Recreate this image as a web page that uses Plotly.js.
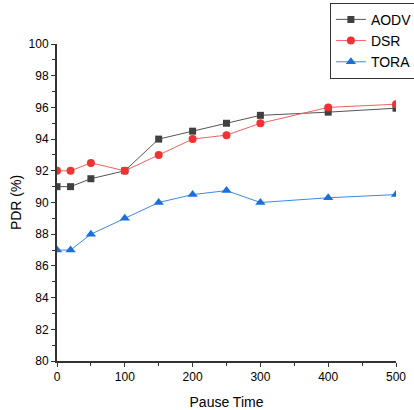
<!DOCTYPE html>
<html><head><meta charset="utf-8">
<script src="https://cdn.plot.ly/plotly-3.0.1.min.js"></script>
<style>body{margin:0;background:#fff}#c{width:414px;height:410px}</style>
</head><body><div id="c"></div>
<script>
const pauseTime = [0, 20, 50, 100, 150, 200, 250, 300, 400, 500];
const aodv = [91, 91, 91.5, 92, 94, 94.5, 95, 95.5, 95.7, 95.95];
const dsr = [92, 92, 92.5, 92, 93, 94, 94.25, 95, 96, 96.2];
const tora = [87, 87, 88, 89, 90, 90.5, 90.75, 90, 90.3, 90.5];

const font = {family: 'Liberation Sans, Arial, sans-serif', color: '#000'};
const traces = [
  {x: pauseTime, y: aodv, name: 'AODV', mode: 'lines+markers',
   line: {color: '#555555', width: 1}, marker: {symbol: 'square', size: 7, color: '#404040'}},
  {x: pauseTime, y: dsr, name: 'DSR', mode: 'lines+markers',
   line: {color: '#f25f5f', width: 1}, marker: {symbol: 'circle', size: 8, color: '#ee3333'}},
  {x: pauseTime, y: tora, name: 'TORA', mode: 'lines+markers',
   line: {color: '#3c8ae6', width: 1}, marker: {symbol: 'triangle-up', size: 9, color: '#1a6fdf'}}
];
const layout = {
  width: 414, height: 410,
  margin: {l: 57, r: 18, t: 44, b: 49, autoexpand: false},
  paper_bgcolor: '#fff', plot_bgcolor: '#fff',
  font: Object.assign({size: 12}, font),
  showlegend: true,
  legend: {x: 0.805, y: 1.13, xanchor: 'left', yanchor: 'top',
    bordercolor: '#333', borderwidth: 1, bgcolor: '#fff',
    font: Object.assign({size: 14}, font), tracegroupgap: 0, itemwidth: 30},
  xaxis: {range: [0, 500], tickvals: [0,100,200,300,400,500], showgrid: false, zeroline: false,
    showline: true, linecolor: '#333', linewidth: 2, ticks: 'outside', ticklen: 4, tickwidth: 1, tickcolor: '#333',
    minor: {dtick: 50, ticks: 'outside', ticklen: 3, tickcolor: '#333'},
    title: {text: 'Pause Time', font: Object.assign({size: 14}, font), standoff: 14},
    tickfont: Object.assign({size: 12}, font)},
  yaxis: {range: [80, 100], dtick: 2, showgrid: false, zeroline: false,
    showline: true, linecolor: '#333', linewidth: 2, ticks: 'outside', ticklen: 4, tickwidth: 1, tickcolor: '#333',
    minor: {dtick: 1, ticks: 'outside', ticklen: 3, tickcolor: '#333'},
    title: {text: 'PDR (%)', font: Object.assign({size: 14}, font), standoff: 4},
    tickfont: Object.assign({size: 12}, font)}
};
Plotly.newPlot('c', traces, layout, {displayModeBar: false, staticPlot: true});
</script></body></html>
